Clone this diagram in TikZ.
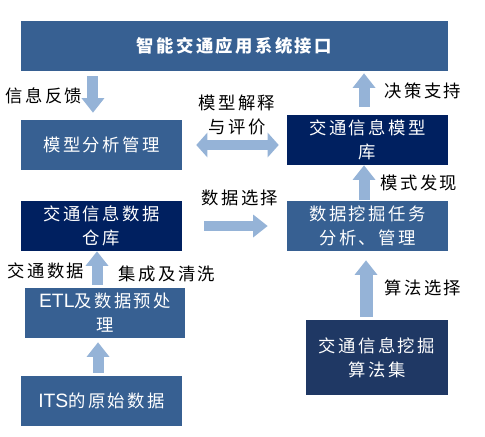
\documentclass[tikz,border=0pt]{standalone}
\usepackage{fontspec}
\setmainfont{Noto Sans CJK SC}[LetterSpace=14]
\newfontfamily\latinfont{Liberation Sans}
\usetikzlibrary{arrows.meta}
\definecolor{boxblue}{HTML}{376092}
\definecolor{boxnavy}{HTML}{002060}
\definecolor{boxdark}{HTML}{1F3864}
\definecolor{arrowblue}{HTML}{95B3D7}
\begin{document}
\begin{tikzpicture}[x=0.75pt,y=0.75pt,yscale=-1,xscale=1,
  box/.style={fill=boxblue, text=white, inner sep=0pt, align=center, minimum width=120.75pt, minimum height=37.5pt, font=\fontsize{13}{18}\selectfont},
  lbl/.style={inner sep=0.75pt, align=center, font=\fontsize{13}{18}\selectfont},
  flow/.style={draw=arrowblue, line width=8.25pt, -{Triangle[width=16.5pt,length=11pt]}},
  twoway/.style={draw=arrowblue, line width=7.5pt, {Triangle[width=18pt,length=8.25pt]}-{Triangle[width=18pt,length=8.25pt]}}]
\useasboundingbox (0,0) rectangle (485,436);

% Boxes
\node [box, minimum width=320.25pt, font=\fontsize{13}{18}\selectfont\bfseries] (iface) at (234.5,46) {智能交通应用系统接口};
\node [box] (mam) at (101.5,145) {模型分析管理};
\node [box, fill=boxnavy] (mlib) at (367.5,140) {交通信息模型\\库};
\node [box, fill=boxnavy] (dw) at (101.5,226) {交通信息数据\\仓库};
\node [box] (task) at (367.5,226) {数据挖掘任务\\分析、管理};
\node [box, minimum width=120pt] (etl) at (105,313) {{\latinfont\fontsize{14.5}{18}\selectfont ETL}及数据预处\\理};
\node [box] (raw) at (101.5,401) {{\latinfont\fontsize{14.5}{18}\selectfont ITS}的原始数据};
\node [box, fill=boxdark, minimum width=106.5pt, minimum height=56.25pt] (algo) at (377,357.5) {交通信息挖掘\\算法集};

% Arrows
\draw [flow, shorten <=3.75pt, shorten >=5.25pt] ([xshift=-6.4pt]mam.north |- iface.south) -- ([xshift=-6.4pt]mam.north);
\draw [twoway, shorten <=10.5pt, shorten >=6pt] (mam.east) -- (mam.east -| mlib.west);
\draw [flow, shorten <=6pt, shorten >=1.5pt] ([xshift=-2.6pt]mlib.north) -- ([xshift=-2.6pt]mlib.north |- iface.south);
\draw [flow, shorten <=0.75pt] ([xshift=-2.6pt]task.north) -- ([xshift=-2.6pt]mlib.south);
\draw [flow, line width=7.5pt, shorten <=16.5pt, shorten >=14.25pt] (dw.east) -- (task.west);
\draw [flow, shorten <=2.25pt] ([xshift=-6pt]etl.north) -- ([xshift=-6pt]etl.north |- dw.south);
\draw [flow, shorten <=2.25pt, shorten >=3pt] ([xshift=-2.6pt]raw.north) -- ([xshift=-2.6pt]raw.north |- etl.south);
\draw [flow, line width=9.75pt, shorten <=2.25pt, shorten >=6.75pt] ([xshift=-8.25pt]algo.north) -- ([xshift=-8.25pt]algo.north |- task.south);

% Text Node
\node [lbl] (feedback) at (44,96) {信息反馈};
% Text Node
\node [lbl] (explain) at (237,115) {模型解释\\与评价};
% Text Node
\node [lbl] (decide) at (423,91) {决策支持};
% Text Node
\node [lbl] (pattern) at (419,183) {模式发现};
% Text Node
\node [lbl] (select) at (240,198) {数据选择};
% Text Node
\node [lbl] (trafdata) at (46,271) {交通数据};
% Text Node
\node [lbl] (clean) at (167,274) {集成及清洗};
% Text Node
\node [lbl] (algosel) at (423,288) {算法选择};

\end{tikzpicture}
\end{document}
